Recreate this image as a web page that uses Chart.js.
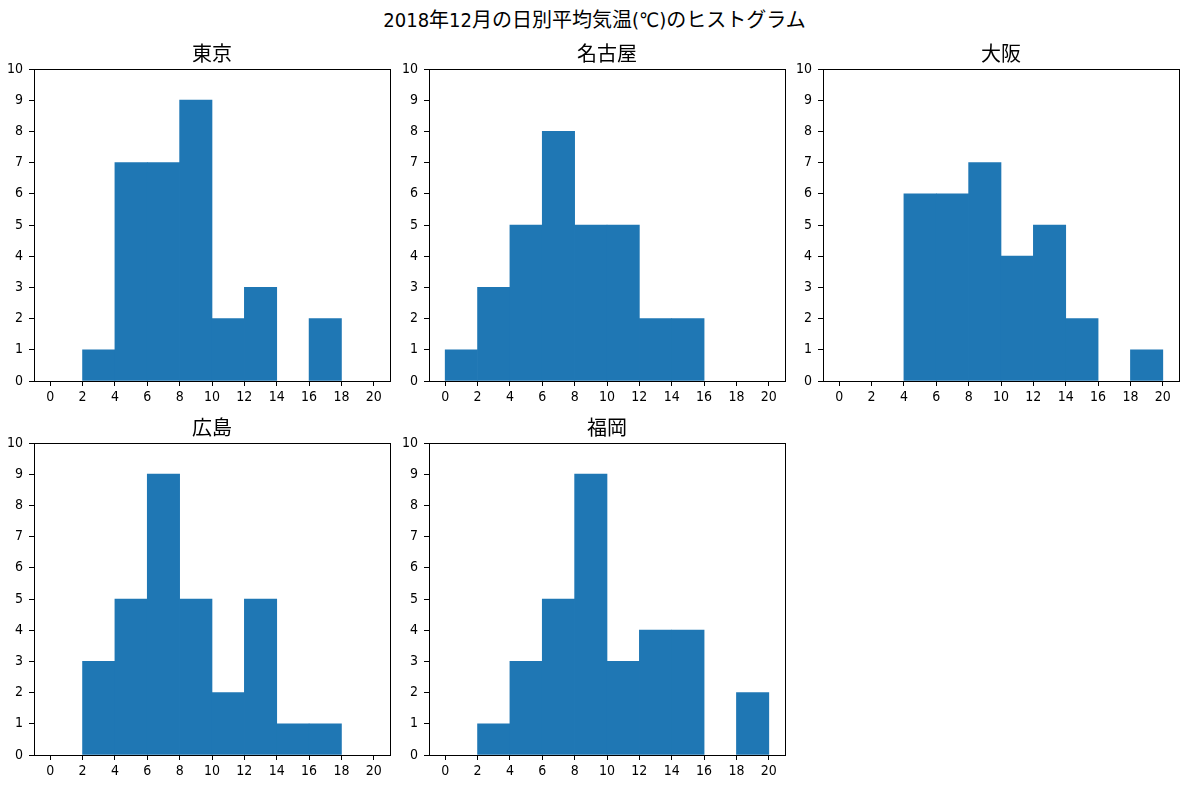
<!DOCTYPE html>
<html lang="ja">
<head>
<meta charset="utf-8">
<script src="https://cdn.jsdelivr.net/npm/chart.js@4/dist/chart.umd.min.js"></script>
<style>
  html, body { margin: 0; padding: 0; background: #fff; }
  #fig { position: relative; width: 1189px; height: 788px; background: #fff; overflow: hidden; }
  #suptitle { position: absolute; left: 0; top: 7px; width: 1189px; text-align: center;
    font-family: 'Liberation Sans Narrow', 'DejaVu Sans Condensed', 'Noto Sans CJK JP', sans-serif;
    font-size: 20px; line-height: 26px; color: #000; }
  canvas { position: absolute; }
</style>
</head>
<body>
<div id="fig">
  <div id="suptitle">2018年12月の日別平均気温(℃)のヒストグラム</div>
</div>
<script>
// ---- data ----
const cities = ['東京', '名古屋', '大阪', '広島', '福岡'];
const binCenters = [1, 3, 5, 7, 9, 11, 13, 15, 17, 19];
const xTicks = [0, 2, 4, 6, 8, 10, 12, 14, 16, 18, 20];
const yTicks = [0, 1, 2, 3, 4, 5, 6, 7, 8, 9, 10];
const tokyo     = [0, 1, 7, 7, 9, 2, 3, 0, 2, 0];
const nagoya    = [1, 3, 5, 8, 5, 5, 2, 2, 0, 0];
const osaka     = [0, 0, 6, 6, 7, 4, 5, 2, 0, 1];
const hiroshima = [0, 3, 5, 9, 5, 2, 5, 1, 1, 0];
const fukuoka   = [0, 1, 3, 5, 9, 3, 4, 4, 0, 2];
const seriesList = [tokyo, nagoya, osaka, hiroshima, fukuoka];

// ---- layout ----
const axLeft = [34, 429, 823];
const axTop = [69, 443];
const axW = 356, axH = 312;
const padL = 34, padT = 40, padB = 30, padR = 34;
const tickFont = "'Liberation Sans Narrow', 'DejaVu Sans Condensed', 'Noto Sans CJK JP', sans-serif";
const titleFont = "'Noto Sans CJK JP', sans-serif";

const frame = {
  id: 'frame',
  afterDraw(chart) {
    const a = chart.chartArea, ctx = chart.ctx;
    ctx.save();
    ctx.strokeStyle = '#000';
    ctx.lineWidth = 1;
    ctx.strokeRect(Math.round(a.left) + 0.5, Math.round(a.top) + 0.5,
                   Math.round(a.right - a.left), Math.round(a.bottom - a.top));
    ctx.restore();
  }
};

const fig = document.getElementById('fig');
seriesList.forEach((vals, i) => {
  const col = i % 3, row = Math.floor(i / 3);
  const cv = document.createElement('canvas');
  const w = padL + axW + padR, h = padT + axH + padB;
  cv.style.left = (axLeft[col] - padL) + 'px';
  cv.style.top = (axTop[row] - padT) + 'px';
  cv.style.width = w + 'px';
  cv.style.height = h + 'px';
  cv.width = w; cv.height = h;
  fig.appendChild(cv);

  new Chart(cv, {
    type: 'bar',
    data: {
      datasets: [{
        data: binCenters.map((x, k) => ({ x: x, y: vals[k] })),
        backgroundColor: '#1f77b4',
        borderWidth: 0,
        barPercentage: 1,
        categoryPercentage: 1,
        inflateAmount: (c) => (c.raw && c.raw.y === 0) ? 0 : 0.33
      }]
    },
    options: {
      responsive: false,
      animation: false,
      devicePixelRatio: 1,
      layout: { padding: 0 },
      plugins: {
        legend: { display: false },
        tooltip: { enabled: false },
        title: {
          display: true,
          text: cities[i],
          color: '#000',
          font: { family: titleFont, size: 20, weight: 'normal', lineHeight: 1.2 },
          padding: { top: 12, bottom: 4 }
        }
      },
      scales: {
        x: {
          type: 'linear',
          offset: false,
          min: -1, max: 21,
          afterBuildTicks: (s) => { s.ticks = xTicks.map(v => ({ value: v })); },
          afterFit: (s) => { s.height = padB; },
          grid: { display: true, offset: false, drawOnChartArea: false, drawTicks: true, tickLength: 5, color: '#000', lineWidth: 1 },
          border: { display: true, color: '#000', width: 1 },
          ticks: { color: '#000', font: { family: tickFont, size: 14 }, padding: 3, maxRotation: 0, autoSkip: false }
        },
        y: {
          type: 'linear',
          min: 0, max: 10,
          afterBuildTicks: (s) => { s.ticks = yTicks.map(v => ({ value: v })); },
          afterFit: (s) => { s.width = padL; },
          grid: { display: true, drawOnChartArea: false, drawTicks: true, tickLength: 5, color: '#000', lineWidth: 1 },
          border: { display: true, color: '#000', width: 1 },
          ticks: { color: '#000', font: { family: tickFont, size: 14 }, padding: 6, autoSkip: false }
        },
        yRight: {
          type: 'linear',
          position: 'right',
          min: 0, max: 10,
          afterFit: (s) => { s.width = padR; },
          grid: { display: false, drawTicks: false },
          border: { display: false },
          ticks: { display: false }
        }
      }
    },
    plugins: [frame]
  });
});
</script>
</body>
</html>
